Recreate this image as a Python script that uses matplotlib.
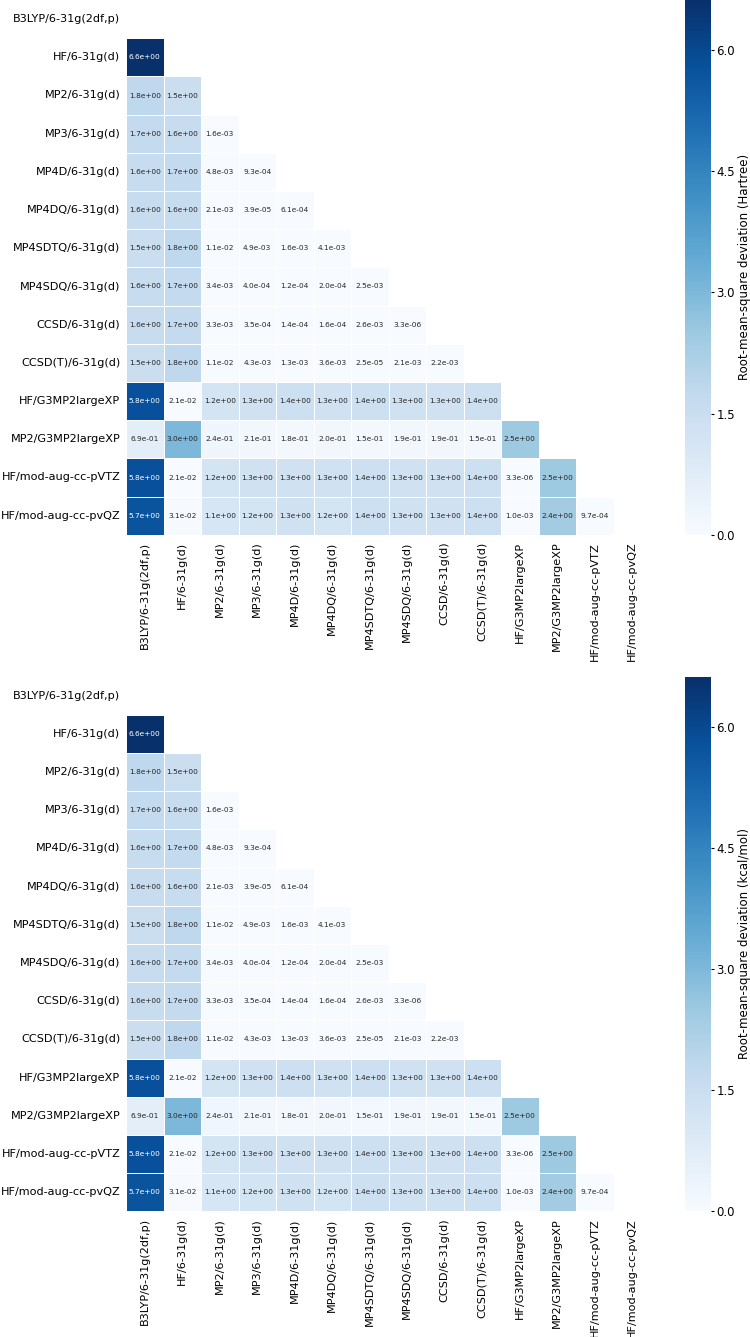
import numpy as np
import matplotlib
matplotlib.use("Agg")
import matplotlib.pyplot as plt
import seaborn as sns

methods = ["B3LYP/6-31g(2df,p)", "HF/6-31g(d)", "MP2/6-31g(d)", "MP3/6-31g(d)",
           "MP4D/6-31g(d)", "MP4DQ/6-31g(d)", "MP4SDTQ/6-31g(d)", "MP4SDQ/6-31g(d)",
           "CCSD/6-31g(d)", "CCSD(T)/6-31g(d)", "HF/G3MP2largeXP", "MP2/G3MP2largeXP",
           "HF/mod-aug-cc-pVTZ", "HF/mod-aug-cc-pvQZ"]

# lower triangle rows (row i has i entries)
rows = [
    [6.6],
    [1.8, 1.5],
    [1.7, 1.6, 1.6e-3],
    [1.6, 1.7, 4.8e-3, 9.3e-4],
    [1.6, 1.6, 2.1e-3, 3.9e-5, 6.1e-4],
    [1.5, 1.8, 1.1e-2, 4.9e-3, 1.6e-3, 4.1e-3],
    [1.6, 1.7, 3.4e-3, 4.0e-4, 1.2e-4, 2.0e-4, 2.5e-3],
    [1.6, 1.7, 3.3e-3, 3.5e-4, 1.4e-4, 1.6e-4, 2.6e-3, 3.3e-6],
    [1.5, 1.8, 1.1e-2, 4.3e-3, 1.3e-3, 3.6e-3, 2.5e-5, 2.1e-3, 2.2e-3],
    [5.8, 2.1e-2, 1.2, 1.3, 1.4, 1.3, 1.4, 1.3, 1.3, 1.4],
    [6.9e-1, 3.0, 2.4e-1, 2.1e-1, 1.8e-1, 2.0e-1, 1.5e-1, 1.9e-1, 1.9e-1, 1.5e-1, 2.5],
    [5.8, 2.1e-2, 1.2, 1.3, 1.3, 1.3, 1.4, 1.3, 1.3, 1.4, 3.3e-6, 2.5],
    [5.7, 3.1e-2, 1.1, 1.2, 1.3, 1.2, 1.4, 1.3, 1.3, 1.4, 1.0e-3, 2.4, 9.7e-4],
]
units = ["Hartree", "kcal/mol"]

n = len(methods)
rmsd = np.zeros((n, n))
for i, r in enumerate(rows):
    rmsd[i + 1, :len(r)] = r
rmsd = rmsd + rmsd.T
mask = np.triu(np.ones((n, n), dtype=bool))

fig = plt.figure(figsize=(7.5, 13.37), dpi=100)

panels = [0.600, 0.094]
for bottom, unit in zip(panels, units):
    ax = fig.add_axes([0.168, bottom, 0.70, 0.40])
    cax = fig.add_axes([0.913, bottom, 0.035, 0.40])
    sns.heatmap(rmsd, mask=mask, cmap="Blues", vmin=0, vmax=6.62,
                annot=True, fmt=".1e", annot_kws={"size": 5.3},
                linewidths=0.5, linecolor="white",
                xticklabels=methods, yticklabels=methods,
                ax=ax, cbar_ax=cax,
                cbar_kws={"ticks": [0.0, 1.5, 3.0, 4.5, 6.0]})
    ax.tick_params(axis="y", length=0, labelsize=8.1, pad=4)
    ax.tick_params(axis="x", length=0, labelsize=8.1, pad=5)
    plt.setp(ax.get_xticklabels(), rotation=90)
    plt.setp(ax.get_yticklabels(), rotation=0)
    cax.tick_params(labelsize=8.5, pad=1.5, length=2.5)
    cax.yaxis.set_major_formatter(matplotlib.ticker.FormatStrFormatter("%.1f"))
    cax.set_ylabel("Root-mean-square deviation (%s)" % unit, fontsize=8.5, labelpad=2)

fig.savefig("out.png", dpi=100)
